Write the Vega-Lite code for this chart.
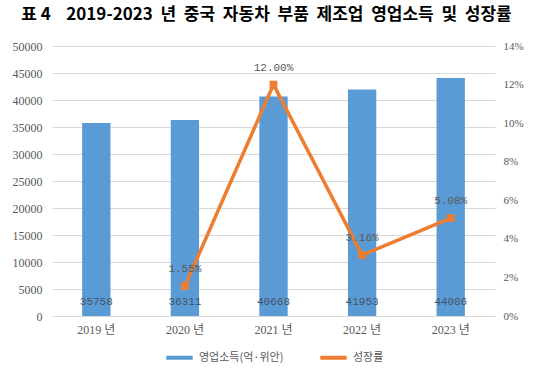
{
  "$schema": "https://vega.github.io/schema/vega-lite/v6.json",
  "autosize": "none",
  "width": 443,
  "height": 270,
  "padding": {"left": 52, "top": 46, "right": 38, "bottom": 63},
  "background": "white",
  "title": {
    "text": "표\u00a04\u00a0\u00a0\u00a0\u00a02019-2023\u00a0\u00a0년\u00a0\u00a0중국\u00a0\u00a0자동차\u00a0\u00a0부품\u00a0\u00a0제조업\u00a0\u00a0영업소득\u00a0\u00a0및\u00a0\u00a0성장률",
    "font": "Noto Sans CJK KR",
    "fontSize": 17,
    "fontWeight": "bold",
    "color": "#000000",
    "anchor": "middle",
    "dx": -7,
    "offset": 16
  },
  "data": {
    "values": [
      {"year": "2019 년", "income": 35758, "growth": null, "glabel": ""},
      {"year": "2020 년", "income": 36311, "growth": 0.0155, "glabel": "1.55%"},
      {"year": "2021 년", "income": 40668, "growth": 0.12, "glabel": "12.00%"},
      {"year": "2022 년", "income": 41953, "growth": 0.0316, "glabel": "3.16%"},
      {"year": "2023 년", "income": 44086, "growth": 0.0508, "glabel": "5.08%"}
    ]
  },
  "config": {
    "view": {"stroke": null},
    "axis": {
      "labelFont": "Liberation Serif, Noto Sans CJK KR",
      "labelFontSize": 12,
      "labelColor": "#595959",
      "ticks": false,
      "labelOverlap": false,
      "title": null
    },
    "legend": {"layout": {"bottom": {"anchor": "middle"}}}
  },
  "encoding": {
    "x": {
      "field": "year",
      "type": "nominal",
      "sort": null,
      "scale": {"paddingInner": 0.68, "paddingOuter": 0.34},
      "axis": {"labelAngle": 0, "domainColor": "#d9d9d9", "labelPadding": 8, "title": null}
    }
  },
  "layer": [
    {
      "encoding": {
        "y": {
          "field": "income",
          "type": "quantitative",
          "scale": {"domain": [0, 50000], "nice": false},
          "axis": {
            "orient": "left",
            "values": [0, 5000, 10000, 15000, 20000, 25000, 30000, 35000, 40000, 45000, 50000],
            "format": "d",
            "grid": true,
            "gridColor": "#d9d9d9",
            "domain": false,
            "labelPadding": 10,
            "labelOverlap": false,
            "title": null
          }
        }
      },
      "layer": [
        {
          "mark": {"type": "bar", "color": "#5B9BD5"},
          "encoding": {
            "color": {
              "datum": "영업소득(억·위안)",
              "scale": {"domain": ["영업소득(억·위안)", "성장률"], "range": ["#5B9BD5", "#ED7D31"]},
              "legend": {
                "orient": "bottom",
                "title": null,
                "symbolType": "stroke",
                "symbolStrokeWidth": 4,
                "symbolSize": 700,
                "labelFont": "Noto Sans CJK KR",
                "labelFontSize": 11,
                "labelColor": "#595959",
                "columnPadding": 28,
                "offset": 7,
                "encode": {"symbols": {"update": {"stroke": {"scale": "color", "field": "value"}}}}
              }
            }
          }
        },
        {
          "mark": {"type": "text", "font": "Liberation Mono", "fontSize": 11, "color": "#44546A", "dy": -14},
          "encoding": {
            "y": {"datum": 0, "type": "quantitative"},
            "text": {"field": "income", "type": "quantitative", "format": "d"}
          }
        }
      ]
    },
    {
      "encoding": {
        "y": {
          "field": "growth",
          "type": "quantitative",
          "scale": {"domain": [0, 0.14], "nice": false},
          "axis": {
            "orient": "right",
            "values": [0, 0.02, 0.04, 0.06, 0.08, 0.1, 0.12, 0.14],
            "format": ".0%",
            "grid": false,
            "domain": false,
            "labelPadding": 8,
            "labelFontSize": 11,
            "labelOverlap": false,
            "title": null
          }
        }
      },
      "layer": [
        {
          "mark": {"type": "line", "color": "#ED7D31", "strokeWidth": 3.5, "point": {"shape": "square", "size": 60, "filled": true, "color": "#ED7D31"}},
          "encoding": {
            "color": {"datum": "성장률"}
          }
        },
        {
          "mark": {"type": "text", "font": "Liberation Mono", "fontSize": 11, "color": "#595959", "dy": -17},
          "encoding": {
            "text": {"field": "glabel", "type": "nominal"}
          }
        }
      ]
    }
  ],
  "resolve": {"scale": {"y": "independent"}}
}
